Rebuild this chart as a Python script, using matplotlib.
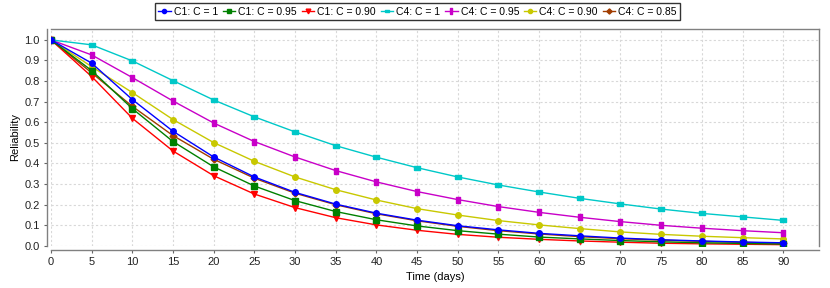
import matplotlib
matplotlib.use("Agg")
import matplotlib.pyplot as plt
import numpy as np

plt.rcParams['font.family'] = ['Liberation Sans', 'DejaVu Sans']

days = [0, 5, 10, 15, 20, 25, 30, 35, 40, 45, 50, 55, 60, 65, 70, 75, 80, 85, 90]

c1_c100 = [1.0, 0.887, 0.710, 0.556, 0.431, 0.334, 0.259, 0.202, 0.158, 0.124, 0.097, 0.077, 0.060, 0.048, 0.037, 0.029, 0.023, 0.018, 0.014]
c1_c095 = [1.0, 0.851, 0.666, 0.506, 0.383, 0.290, 0.219, 0.166, 0.126, 0.096, 0.073, 0.056, 0.042, 0.033, 0.025, 0.019, 0.014, 0.011, 0.008]
c1_c090 = [1.0, 0.822, 0.619, 0.460, 0.340, 0.251, 0.185, 0.136, 0.101, 0.075, 0.055, 0.041, 0.031, 0.023, 0.017, 0.012, 0.009, 0.007, 0.005]
c4_c100 = [1.0, 0.976, 0.898, 0.802, 0.708, 0.626, 0.553, 0.486, 0.430, 0.379, 0.334, 0.295, 0.261, 0.230, 0.203, 0.178, 0.157, 0.140, 0.123]
c4_c095 = [1.0, 0.927, 0.817, 0.703, 0.596, 0.506, 0.431, 0.365, 0.310, 0.263, 0.224, 0.190, 0.162, 0.138, 0.117, 0.099, 0.085, 0.073, 0.063]
c4_c090 = [1.0, 0.870, 0.744, 0.613, 0.501, 0.410, 0.334, 0.272, 0.222, 0.180, 0.149, 0.122, 0.101, 0.083, 0.067, 0.055, 0.046, 0.039, 0.033]
c4_c085 = [1.0, 0.840, 0.677, 0.535, 0.420, 0.328, 0.255, 0.199, 0.155, 0.121, 0.094, 0.073, 0.057, 0.044, 0.034, 0.027, 0.021, 0.016, 0.012]

labels = ["C1: C = 1", "C1: C = 0.95", "C1: C = 0.90", "C4: C = 1",
          "C4: C = 0.95", "C4: C = 0.90", "C4: C = 0.85"]
series = [c1_c100, c1_c095, c1_c090, c4_c100, c4_c095, c4_c090, c4_c085]
colors = ["#0000ff", "#008000", "#ff0000", "#00c8c8", "#c800c8", "#c8c800", "#a03c00"]

hrect = [(-1, -0.5), (1, -0.5), (1, 0.5), (-1, 0.5), (-1, -0.5)]
vrect = [(-0.5, -1), (0.5, -1), (0.5, 1), (-0.5, 1), (-0.5, -1)]
markers = ["o", "s", "v", hrect, vrect, "o", "D"]
msizes = [4.0, 4.0, 4.5, 4.5, 5.0, 4.0, 3.5]

fig = plt.figure(figsize=(8.3, 2.88), dpi=100)
ax = fig.add_axes([51/830, 1 - 245.7/288, (819-51)/830, (245.7-29)/288])

handles = []
n = len(series)
for i, (s, lab, col, mk, ms) in enumerate(zip(series, labels, colors, markers, msizes)):
    h, = ax.plot(days, s, color=col, lw=1.0, marker=mk, ms=ms, mec=col, mfc=col,
                 label=lab, zorder=10 + n - i)
    handles.append(h)

ax.set_xlim(0, 94.4)
ax.set_ylim(0, 1.053)
ax.set_xticks(np.arange(0, 91, 5))
ax.set_yticks(np.arange(0, 1.01, 0.1))
ax.set_yticklabels([f"{v:.1f}" for v in np.arange(0, 1.01, 0.1)])
ax.grid(True, color="#d8d8d8", linestyle=(0, (2, 2)), lw=0.8)
ax.set_axisbelow(True)

for sp in ["top", "right"]:
    ax.spines[sp].set_color("#808080")
    ax.spines[sp].set_linewidth(1.0)
for sp in ["left", "bottom"]:
    ax.spines[sp].set_color("#808080")
    ax.spines[sp].set_linewidth(1.0)
    ax.spines[sp].set_position(("outward", 3))

ax.tick_params(axis="both", labelsize=8, colors="#666666", labelcolor="#222222",
               length=2, width=0.8, pad=3)
ax.set_xlabel("Time (days)", fontsize=8, labelpad=4)
ax.set_ylabel("Reliability", fontsize=8, labelpad=3)

leg = fig.legend(handles=handles, loc="upper center", bbox_to_anchor=(0.503, 0.997),
                 ncol=7, fontsize=7.5, frameon=True, fancybox=False,
                 handlelength=1.2, handletextpad=0.3, columnspacing=0.45,
                 borderpad=0.35, borderaxespad=0.2, markerscale=0.75)
leg.get_frame().set_edgecolor("#000000")
leg.get_frame().set_linewidth(1.0)

fig.savefig("out.png", dpi=100)
